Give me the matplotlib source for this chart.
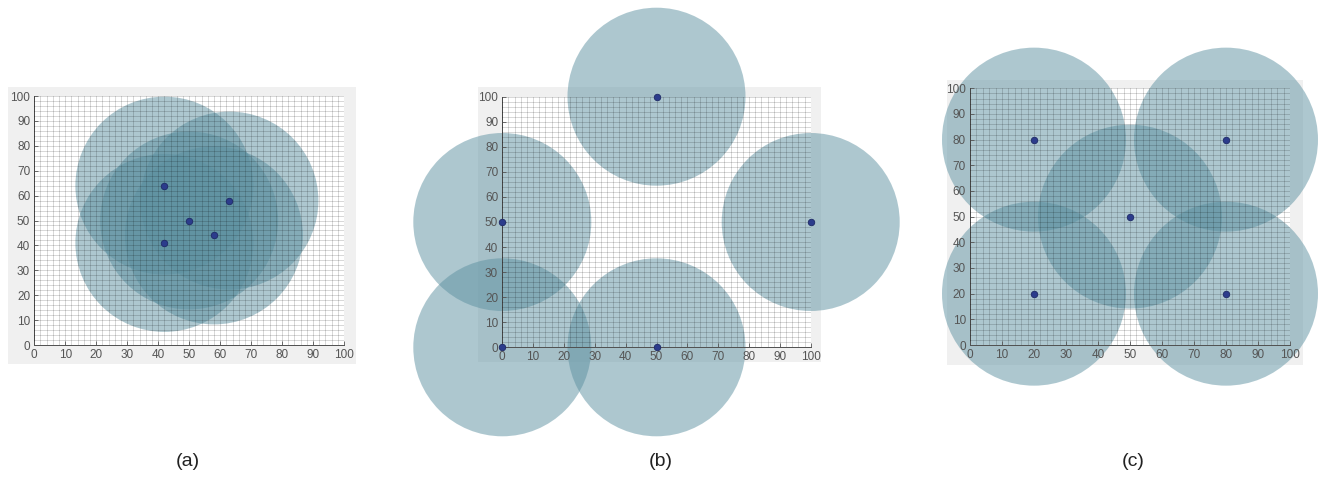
import numpy as np
import matplotlib
matplotlib.use("Agg")
import matplotlib.pyplot as plt
from matplotlib.patches import Rectangle

plt.rcParams['font.family'] = ['Liberation Sans', 'DejaVu Sans']

# sensor positions for the three layouts
a_x = [42, 63, 50, 58, 42]
a_y = [64, 58, 50, 44, 41]
b_x = [50, 0, 100, 0, 50]
b_y = [100, 50, 50, 0, 0]
c_x = [20, 80, 50, 20, 80]
c_y = [80, 80, 50, 20, 20]
panel_labels = ["(a)", "(b)", "(c)"]
ticks = np.arange(0, 101, 10)
minor_ticks = np.arange(0, 101, 2)

W, H = 1327, 479
fig = plt.figure(figsize=(W / 100, H / 100), dpi=100)
fig.patch.set_facecolor('white')

circle_col = (93 / 255, 145 / 255, 161 / 255)
dot_col = '#2c3c8c'

# pixel boxes: (axes left, right, top, bottom), (grey left, right, top, bottom), circle radius px
panels = [
    ((34.3, 344.0, 96.0, 345.0), (8, 356, 87, 364), 89, a_x, a_y, 188),
    ((502.3, 810.7, 96.7, 347.3), (478, 821, 87, 362), 89, b_x, b_y, 661),
    ((970.0, 1290.0, 88.3, 345.0), (947, 1303, 80, 365), 92, c_x, c_y, 1133),
]

for i, (ab, gb, r, xs, ys, lx) in enumerate(panels):
    gl, gr, gt, gbm = gb
    fig.patches.append(Rectangle((gl / W, 1 - gbm / H), (gr - gl) / W, (gbm - gt) / H,
                                 transform=fig.transFigure, facecolor='#f0f0f0',
                                 edgecolor='none', zorder=-5))
    l, rr, t, b = ab
    ax = fig.add_axes([l / W, 1 - b / H, (rr - l) / W, (b - t) / H])
    ax.set_facecolor('white')
    ax.set_xlim(0, 100)
    ax.set_ylim(0, 100)
    ax.set_xticks(ticks)
    ax.set_yticks(ticks)
    ax.set_xticks(minor_ticks, minor=True)
    ax.set_yticks(minor_ticks, minor=True)
    # grid sits on top of the translucent discs, as in the original
    ax.grid(True, which='both', color='black', alpha=0.22, lw=0.5)
    ax.set_axisbelow(False)
    ax.tick_params(which='major', direction='in', length=3, width=0.6,
                   labelsize=8.5, colors='#555555', pad=3)
    ax.tick_params(which='minor', length=0)
    for s in ['top', 'right']:
        ax.spines[s].set_visible(False)
    for s in ['left', 'bottom']:
        ax.spines[s].set_color('#505050')
        ax.spines[s].set_linewidth(0.7)

    size = (2 * r * 0.72) ** 2
    ax.scatter(xs, ys, s=size, color=circle_col, alpha=0.5, edgecolors='none',
               clip_on=False, zorder=2)
    ax.scatter(xs, ys, s=22, color=dot_col, edgecolors='#1e2a66', linewidths=0.6,
               clip_on=False, zorder=4)

    fig.text(lx / W, 1 - 462 / H, panel_labels[i], ha='center', va='center',
             fontsize=14, color='#222222')

fig.savefig("out.png", dpi=100)
